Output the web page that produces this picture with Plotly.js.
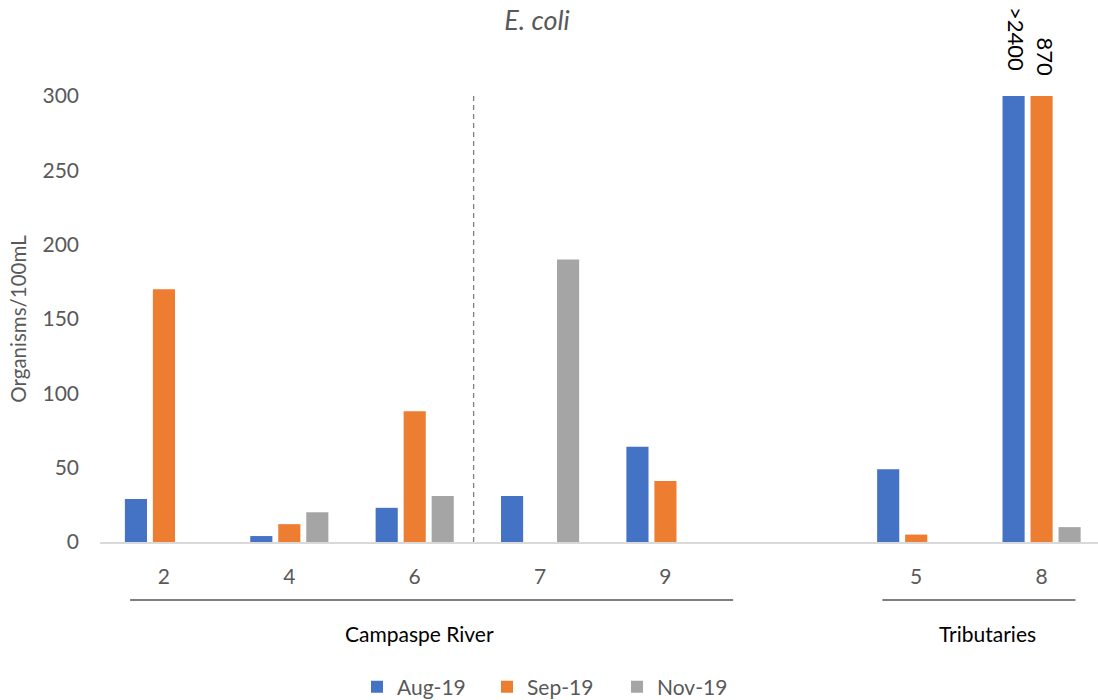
<!DOCTYPE html>
<html><head><meta charset="utf-8">
<script src="https://cdn.plot.ly/plotly-3.0.1.min.js"></script>
<style>html,body{margin:0;padding:0;background:#fff}#chart{width:1098px;height:700px}</style>
</head><body><div id="chart"></div>
<script>
// Sites (x categories); a blank slot separates the river sites from the tributaries
const axisCategories = ["2", "4", "6", "7", "9", " ", "5", "8"];
const sites = ["2", "4", "6", "7", "9", "5", "8"];
// E. coli (organisms/100mL); site 8 values shown capped at 300 with labels
const aug19 = [29, 4, 23, 31, 64, 49, 300];
const sep19 = [170, 12, 88, 0, 41, 5, 300];
const nov19 = [0, 20, 31, 190, 0, 0, 10];
const seriesNames = ["Aug-19", "Sep-19", "Nov-19"];
const capLabels = [">2400", "870"];
const capSite = "8";
const groupLabels = ["Campaspe River", "Tributaries"];
const yTicks = [0, 50, 100, 150, 200, 250, 300];

const colors = ["#4472C4", "#ED7D31", "#A5A5A5"];
const font = "Lato, 'Open Sans', sans-serif";
const capIndex = axisCategories.indexOf(capSite);

const traces = [aug19, sep19, nov19].map((vals, i) => ({
  type: "bar", x: sites, y: vals, name: seriesNames[i],
  marker: {color: colors[i]}, hoverinfo: "x+y+name"
}));

const layout = {
  width: 1098, height: 700,
  margin: {l: 100, r: 0, t: 96, b: 158},
  paper_bgcolor: "#fff", plot_bgcolor: "#fff",
  font: {family: font, color: "#595959", size: 20},
  title: {text: "<i>E. coli</i>", x: 537 / 1098, xref: "container", xanchor: "center",
          y: 1 - 21 / 700, yref: "container", yanchor: "middle",
          font: {family: font, size: 27, color: "#595959"}},
  barmode: "group", bargap: 0.33, bargroupgap: 0.21,
  xaxis: {type: "category", categoryorder: "array", categoryarray: axisCategories,
          range: [-0.51, 7.45], showline: true, linecolor: "#d9d9d9", linewidth: 2,
          showgrid: false, zeroline: false, ticks: "", ticklabelstandoff: 15,
          tickfont: {size: 21, color: "#595959"}, fixedrange: true},
  yaxis: {range: [0, 300], tickvals: yTicks, showgrid: false, zeroline: false, showline: false,
          ticks: "", ticklabelstandoff: 20, tickfont: {size: 21, color: "#595959"},
          title: {text: "Organisms/100mL", standoff: 10, font: {size: 20.5, color: "#595959"}},
          fixedrange: true},
  showlegend: true,
  legend: {orientation: "h", xref: "container", yref: "container", x: 552 / 1098, xanchor: "center",
           y: 1 - 687 / 700, yanchor: "middle", font: {size: 21, color: "#595959"},
           entrywidthmode: "pixels", entrywidth: 85, itemclick: false},
  shapes: [
    {type: "line", xref: "x", yref: "paper", x0: 2.47, x1: 2.47, y0: 0, y1: 1.009,
     line: {color: "#808080", width: 1.3, dash: "5px,4px"}},
    {type: "line", xref: "x", yref: "paper", x0: -0.27, x1: 4.54, y0: -0.13, y1: -0.13,
     line: {color: "#000", width: 1.2}},
    {type: "line", xref: "x", yref: "paper", x0: 5.73, x1: 7.27, y0: -0.13, y1: -0.13,
     line: {color: "#000", width: 1.2}}
  ],
  annotations: [
    {text: groupLabels[0], xref: "x", yref: "paper", x: 2.04, y: -0.205, showarrow: false,
     font: {size: 21, color: "#000"}, xanchor: "center", yanchor: "middle"},
    {text: groupLabels[1], xref: "x", yref: "paper", x: 6.57, y: -0.205, showarrow: false,
     font: {size: 21, color: "#000"}, xanchor: "center", yanchor: "middle"},
    {text: capLabels[0], xref: "x", yref: "paper", x: capIndex, xshift: -25, y: (542 - 38.5) / 446,
     textangle: 90, showarrow: false, font: {size: 22, color: "#000"}, xanchor: "center", yanchor: "middle"},
    {text: capLabels[1], xref: "x", yref: "paper", x: capIndex, xshift: 3.5, y: (542 - 56.5) / 446,
     textangle: 90, showarrow: false, font: {size: 22, color: "#000"}, xanchor: "center", yanchor: "middle"}
  ]
};

Plotly.newPlot("chart", traces, layout, {displayModeBar: false, staticPlot: true});
</script>
</body></html>
